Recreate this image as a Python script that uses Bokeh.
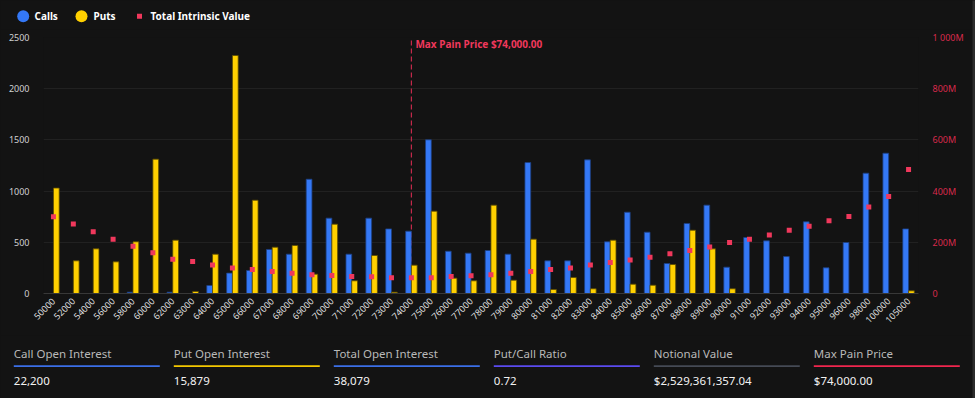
import math
from bokeh.plotting import figure
from bokeh.layouts import column, row
from bokeh.models import (ColumnDataSource, FactorRange, Range1d, LinearAxis,
                          FixedTicker, CustomJSTickFormatter)
from bokeh.core.properties import value
from bokeh.embed import file_html
from bokeh.resources import INLINE
from bokeh.transform import dodge

# ---------------- data ----------------
strikes = ["50000", "52000", "54000", "56000", "58000", "60000", "62000", "63000",
           "64000", "65000", "66000", "67000", "68000", "69000", "70000", "71000",
           "72000", "73000", "74000", "75000", "76000", "77000", "78000", "79000",
           "80000", "81000", "82000", "83000", "84000", "85000", "86000", "87000",
           "88000", "89000", "90000", "91000", "92000", "93000", "94000", "95000",
           "96000", "98000", "100000", "105000"]
calls = [0, 0, 0, 0, 13, 0, 13, 0, 78, 199, 225, 430, 384, 1116, 736, 384,
         736, 631, 609, 1501, 413, 394, 420, 384, 1279, 319, 319, 1305, 505, 794,
         599, 293, 684, 863, 257, 547, 514, 361, 700, 251, 498, 1175, 1370, 631]
puts = [1030, 319, 436, 309, 505, 1312, 521, 20, 384, 2324, 911, 452, 469, 189,
        677, 124, 371, 13, 277, 804, 150, 124, 863, 130, 531, 39, 156, 46, 521,
        91, 81, 283, 618, 436, 46, 0, 0, 0, 0, 0, 0, 0, 0, 26]
intrinsic_m = [300, 271, 241, 212, 185, 159, 134, 125, 111, 100, 94, 86, 79, 73,
               70, 66, 65, 62, 62, 62, 66, 69, 73, 79, 86, 94, 100, 111, 121, 131,
               142, 155, 168, 182, 199, 212, 229, 247, 263, 284, 301, 338, 379, 484]
left_ticks = [0, 500, 1000, 1500, 2000, 2500]
right_ticks = [0, 200, 400, 600, 800, 1000]
max_pain_strike = "74000"
max_pain_label = "Max Pain Price $74,000.00"
legend_labels = ["Calls", "Puts", "Total Intrinsic Value"]
stat_labels = ["Call Open Interest", "Put Open Interest", "Total Open Interest",
               "Put/Call Ratio", "Notional Value", "Max Pain Price"]
stat_values = ["22,200", "15,879", "38,079", "0.72", "$2,529,361,357.04", "$74,000.00"]

# ---------------- style ----------------
BG = "#131313"
BLUE = "#3478f6"
YELLOW = "#ffd000"
RED = "#f0385c"
AXIS_RED = "#d92a4c"
FONT = "Noto Sans"
stat_colors = ["#3b6fe8", "#f5c800", "#3b6fe8", "#5b4bf0", "#454a55", "#f0264e"]

W = 972            # content width (a thin window edge strip fills the rest)
LEG_H = 29         # legend strip height
MAIN_H = 306       # chart height
STAT_H = 63        # stats strip height
FL, FR, FT, FB = 43, 918, 37, 293   # chart frame edges in page pixels


def strip_fig(w, h, bg=BG):
    f = figure(width=w, height=h, x_range=Range1d(0, w), y_range=Range1d(0, h),
               output_backend="svg", toolbar_location=None,
               min_border=0, min_border_left=0, min_border_right=0,
               min_border_top=0, min_border_bottom=0, frame_align=False)
    f.axis.visible = False
    f.grid.visible = False
    f.outline_line_color = None
    f.background_fill_color = bg
    f.border_fill_color = bg
    return f


# ---------------- legend strip ----------------
lg = strip_fig(W, LEG_H)
ly = LEG_H - 15.7
lg.scatter(x=[22.7, 81.0], y=[ly, ly], size=12, marker="circle",
           fill_color=[BLUE, YELLOW], line_color=None)
lg.scatter(x=[139.0], y=[ly], size=5, marker="square", fill_color=RED, line_color=None)
lg.text(x=[34, 93, 150], y=[ly] * 3, text=legend_labels, text_color="#ffffff",
        text_font=value(FONT), text_font_size="10px", text_font_style="bold",
        text_baseline="middle", text_align="left")

# ---------------- main chart ----------------
src = ColumnDataSource(dict(strike=strikes, calls=calls, puts=puts, iv=intrinsic_m))

p = figure(width=W, height=MAIN_H, x_range=FactorRange(*strikes), y_range=Range1d(0, 2500),
           output_backend="svg", toolbar_location=None, frame_align=False,
           min_border_left=FL, min_border_right=W - FR, min_border_top=FT - LEG_H,
           min_border_bottom=LEG_H + MAIN_H - FB)
p.background_fill_color = BG
p.border_fill_color = BG
p.outline_line_color = None
p.extra_y_ranges = {"iv": Range1d(0, 1000)}

p.xgrid.grid_line_color = None
p.ygrid.grid_line_color = "#212121"
p.ygrid.ticker = FixedTicker(ticks=left_ticks)

ya = p.yaxis[0]
ya.ticker = FixedTicker(ticks=left_ticks)
ya.axis_line_color = None
ya.major_tick_line_color = None
ya.minor_tick_line_color = None
ya.major_tick_out = 0
ya.major_tick_in = 0
ya.major_label_standoff = 14
ya.major_label_text_color = "#d0d0d0"
ya.major_label_text_font = FONT
ya.major_label_text_font_size = "9px"

xa = p.xaxis[0]
xa.axis_line_color = "#383838"
xa.major_tick_line_color = None
xa.minor_tick_line_color = None
xa.major_tick_out = 0
xa.major_tick_in = 0
xa.major_label_orientation = math.pi / 4
xa.major_label_standoff = 6
xa.major_label_text_color = "#dcdcdc"
xa.major_label_text_font = FONT
xa.major_label_text_font_size = "9px"

ra = LinearAxis(y_range_name="iv", ticker=FixedTicker(ticks=right_ticks))
ra.formatter = CustomJSTickFormatter(code="""
    if (tick == 0) return "0";
    const s = Math.round(tick).toString().replace(/\\B(?=(\\d{3})+(?!\\d))/g, " ");
    return s + "M";
""")
ra.axis_line_color = None
ra.major_tick_line_color = None
ra.minor_tick_line_color = None
ra.major_tick_out = 0
ra.major_tick_in = 0
ra.major_label_standoff = 14
ra.major_label_text_color = AXIS_RED
ra.major_label_text_font = FONT
ra.major_label_text_font_size = "9px"
p.add_layout(ra, "right")

# max pain line + label
p.segment(x0=[max_pain_strike], y0=[0], x1=[max_pain_strike], y1=[2500],
          line_color="#c4284a", line_width=1.2, line_dash="5 3")
p.text(x=[max_pain_strike], y=[2500], text=[max_pain_label], x_offset=4, y_offset=-1,
       text_color=RED, text_font=value(FONT), text_font_size="10px",
       text_font_style="bold", text_baseline="top", text_align="left")

# bars and dots
p.vbar(x=dodge("strike", -0.145, range=p.x_range), top="calls", width=0.29, source=src,
       fill_color=BLUE, line_color="#1d3f80", line_width=0.8)
p.vbar(x=dodge("strike", 0.145, range=p.x_range), top="puts", width=0.29, source=src,
       fill_color=YELLOW, line_color="#5a4a00", line_width=0.8)
p.scatter(x="strike", y="iv", y_range_name="iv", source=src, marker="square", size=5,
          fill_color=RED, line_color=None)

# ---------------- stats strip ----------------
st = strip_fig(W, STAT_H)
top_page = LEG_H + MAIN_H
col_x = [13.3 + 160 * i for i in range(6)]
st.text(x=col_x, y=[top_page + STAT_H - 353.3] * 6, text=stat_labels,
        text_color="#b9b9b9", text_font=value(FONT), text_font_size="11.5px",
        text_baseline="middle", text_align="left")
uy = top_page + STAT_H - 365.7
st.quad(left=col_x, right=[x + 146 for x in col_x], bottom=[uy - 0.9] * 6,
        top=[uy + 0.9] * 6, fill_color=stat_colors, line_color=None)
st.text(x=col_x, y=[top_page + STAT_H - 380] * 6, text=stat_values,
        text_color="#f2f2f2", text_font=value(FONT), text_font_size="11.5px",
        text_baseline="middle", text_align="left")

# thin window edge strip on the far right
edge = strip_fig(3, LEG_H + MAIN_H + STAT_H, bg="#2c2c2c")

layout = row(column(lg, p, st, spacing=0), edge, spacing=0)
layout.background = BG

open("out.html", "w").write(file_html(layout, INLINE))
